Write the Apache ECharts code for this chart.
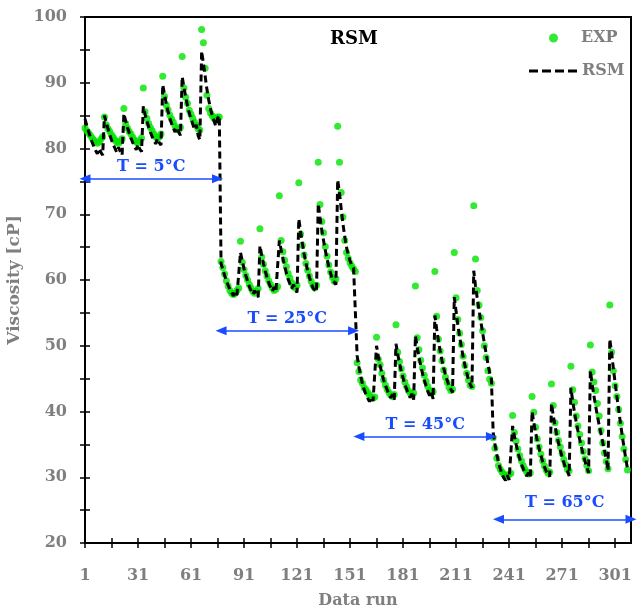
<!DOCTYPE html>
<html>
<head>
<meta charset="utf-8">
<script src="https://cdn.jsdelivr.net/npm/echarts@6/dist/echarts.min.js"></script>
<style>html,body{margin:0;padding:0;background:#fff}#chart{width:642px;height:607px}</style>
</head>
<body>
<div id="chart"></div>
<script>
// ---- data (one value per data run, 7 cycles of 11 runs per temperature) ----
var exp5 = [
 83.1,82.7,82.4,82.0,81.6,81.3,81.0,80.8,81.0,81.4,81.8,
 84.8,83.6,83.0,82.6,82.1,81.7,81.3,81.0,80.8,81.1,81.5,
 86.1,83.8,83.1,82.6,82.2,81.7,81.3,81.0,80.8,81.2,81.6,
 89.2,85.6,84.6,83.8,83.2,82.7,82.2,81.8,81.5,81.8,82.2,
 91.0,87.9,86.6,85.9,85.1,84.5,84.0,83.4,83.0,82.8,83.2,
 94.0,89.2,87.8,86.9,85.8,85.2,84.6,84.0,83.5,83.0,82.8,
 98.1,96.1,92.2,88.1,86.1,85.4,85.0,84.6,84.3,84.8,84.8
];
var rsm5 = [
 84.5,83.5,82.6,81.8,81.0,80.3,79.7,79.2,80.0,79.4,79.0,
 85.0,84.0,83.0,82.1,81.3,80.6,80.0,79.4,80.2,79.5,79.0,
 85.3,84.2,83.2,82.4,81.6,80.9,80.3,79.8,80.6,79.9,79.5,
 86.4,85.2,84.2,83.3,82.5,81.8,81.2,80.7,81.5,80.9,80.5,
 89.7,88.2,86.8,85.6,84.6,83.8,83.1,82.5,83.2,82.5,82.0,
 90.9,89.3,87.8,86.5,85.4,84.5,83.7,82.9,83.6,82.0,81.3,
 94.8,93.0,91.0,89.0,87.4,86.1,85.0,84.2,83.4,84.6,85.0
];
var exp25 = [
 62.8,61.9,60.9,59.9,59.1,58.4,58.0,57.8,58.0,58.4,58.8,
 65.9,62.7,61.6,60.7,60.0,59.3,58.8,58.3,58.0,58.3,58.7,
 67.8,63.5,62.4,61.4,60.6,59.9,59.3,58.8,58.4,58.6,59.0,
 72.8,66.0,64.3,63.0,62.0,61.0,60.3,59.6,59.0,58.8,59.2,
 74.8,67.0,65.3,63.8,62.5,61.5,60.6,59.8,59.2,58.8,59.2,
 77.9,71.5,68.9,67.2,65.1,63.6,62.3,61.2,60.4,59.8,60.2,
 83.4,77.9,73.3,69.6,66.0,64.2,63.3,62.6,62.1,61.7,61.3
];
var rsm25 = [
 62.5,61.6,60.7,59.9,59.2,58.6,58.1,57.6,58.2,57.7,57.4,
 64.2,62.9,61.7,60.7,59.8,59.0,58.4,57.8,58.4,57.8,57.4,
 65.2,63.8,62.5,61.4,60.4,59.6,58.9,58.3,58.9,58.2,57.9,
 66.0,64.6,63.3,62.1,61.0,60.1,59.4,58.7,59.3,58.6,58.1,
 69.3,67.4,65.6,64.0,62.6,61.4,60.4,59.5,58.8,59.0,58.2,
 71.6,69.5,67.6,66.0,64.5,63.2,62.0,61.0,60.1,60.4,59.3,
 75.2,73.3,70.8,68.5,66.6,65.0,63.8,62.9,62.2,61.8,61.5
];
var exp45 = [
 47.4,46.1,44.8,44.3,43.6,43.3,42.9,42.5,42.2,42.0,42.2,
 51.3,48.0,47.1,45.8,44.8,44.0,43.4,42.9,42.5,42.3,42.6,
 53.2,49.0,47.6,46.5,45.4,44.5,43.8,43.2,42.8,42.5,42.8,
 59.1,51.2,49.4,47.8,46.6,45.5,44.6,43.8,43.2,42.8,43.0,
 61.3,54.5,51.0,49.2,47.7,46.3,45.2,44.4,43.7,43.2,43.4,
 64.2,57.3,54.0,51.9,50.2,48.4,47.0,45.8,44.8,44.0,43.8,
 71.3,63.2,58.4,56.2,54.3,52.3,50.0,48.2,46.2,44.9,44.3
];
var rsm45 = [
 48.5,46.8,45.4,44.2,43.3,42.6,42.0,41.5,42.2,41.6,41.3,
 50.0,48.4,47.0,45.8,44.8,44.0,43.3,42.6,42.1,42.6,41.8,
 50.3,48.7,47.3,46.1,45.1,44.2,43.4,42.7,42.1,42.7,41.8,
 51.5,49.8,48.3,47.0,45.8,44.8,43.9,43.1,42.4,43.0,41.9,
 54.6,52.6,50.8,49.2,47.8,46.6,45.6,44.7,43.9,43.4,42.9,
 57.4,55.2,53.2,51.4,49.8,48.3,47.0,45.9,44.9,44.1,43.6,
 61.4,59.1,57.2,55.4,53.7,52.0,50.4,48.8,47.3,45.9,44.9
];
var exp65 = [
 36.0,34.4,32.9,31.8,31.2,30.8,30.5,30.3,30.2,30.4,30.6,
 39.4,36.8,35.5,34.3,33.3,32.5,31.8,31.2,30.8,30.5,30.7,
 42.3,39.9,37.6,35.8,34.6,33.5,32.5,31.7,31.1,30.6,30.8,
 44.2,40.9,38.3,36.8,35.6,34.6,33.6,32.7,31.9,31.2,31.0,
 46.9,43.3,41.4,39.3,37.8,36.5,35.2,33.9,32.8,31.8,31.0,
 50.1,46.0,44.5,43.2,41.2,39.3,37.1,35.2,33.7,32.4,31.3,
 56.2,49.0,46.2,43.9,42.3,40.3,38.2,36.2,34.3,32.7,31.1
];
var rsm65 = [
 36.8,35.0,33.5,32.3,31.3,30.5,29.9,29.5,30.3,29.6,29.3,
 37.8,36.3,35.0,33.8,32.8,32.0,31.3,30.7,30.2,30.7,30.0,
 40.0,38.3,36.8,35.5,34.3,33.3,32.4,31.6,30.9,31.2,30.1,
 41.2,39.4,37.8,36.4,35.2,34.1,33.1,32.2,31.4,31.0,30.2,
 43.6,41.6,39.9,38.4,37.0,35.7,34.5,33.4,32.4,31.5,30.7,
 46.2,44.2,42.4,40.8,39.3,37.9,36.6,35.3,34.0,32.8,31.0,
 51.0,49.0,46.6,44.4,42.3,40.3,38.3,36.4,34.6,32.9,31.3
];
var xTickLabels = [1, 31, 61, 91, 121, 151, 181, 211, 241, 271, 301];
var yTickLabels = [20, 30, 40, 50, 60, 70, 80, 90, 100];
var tempLabels = ['T = 5°C', 'T = 25°C', 'T = 45°C', 'T = 65°C'];
var tempRanges = [[1, 76], [78, 153], [156, 231], [235, 310]];
var tempArrowY = [75.4, 52.3, 36.2, 23.6];

// ---- build ----
var expAll = exp5.concat(exp25, exp45, exp65);
var rsmAll = rsm5.concat(rsm25, rsm45, rsm65);
var expData = expAll.map(function (v, i) { return [i + 1, v]; });
var rsmData = rsmAll.map(function (v, i) { return [i + 1, v]; });

var FONT = 'DejaVu Serif';
var GREY = '#7f7f7f';
var BLUE = '#1a4cff';
var labelGaps = [4, 4, 4, 8];

var arrowLines = tempLabels.map(function (t, i) {
  return [
    { coord: [tempRanges[i][0], tempArrowY[i]],
      label: { formatter: t, distance: labelGaps[i] } },
    { coord: [tempRanges[i][1], tempArrowY[i]] }
  ];
});

var chart = echarts.init(document.getElementById('chart'), null, { renderer: 'canvas' });
var xBase = { type: 'value', min: 1, max: 310, interval: 15, gridIndex: 0, position: 'bottom',
  splitLine: { show: false } };
var yBase = { type: 'value', min: 20, max: 100, interval: 5, gridIndex: 0, position: 'left',
  splitLine: { show: false } };
var DASH_ICON = 'path://M0,0h9v3h-9z M13,0h9v3h-9z M26,0h9v3h-9z M39,0h9v3h-9z';

chart.setOption({
  animation: false,
  backgroundColor: '#fff',
  title: {
    text: 'RSM', left: 330, top: 30, padding: 0,
    textStyle: { fontFamily: FONT, fontWeight: 'bold', fontSize: 18, color: '#000' }
  },
  legend: [
    { data: [{ name: 'EXP', icon: 'circle' }], left: 549, top: 30, padding: 0,
      itemWidth: 9, itemHeight: 9,
      textStyle: { fontFamily: FONT, fontWeight: 'bold', fontSize: 16, color: GREY,
        padding: [0, 0, 0, 18] } },
    { data: [{ name: 'RSM', icon: DASH_ICON, itemStyle: { color: '#000' } }],
      left: 529, top: 63, padding: 0, itemWidth: 48, itemHeight: 3,
      textStyle: { fontFamily: FONT, fontWeight: 'bold', fontSize: 16, color: GREY } }
  ],
  grid: { left: 85, right: 11, top: 17, bottom: 64, show: true, borderColor: '#000', borderWidth: 2,
    containLabel: false, outerBoundsMode: 'none' },
  xAxis: [
    Object.assign({}, xBase, {
      name: 'Data run', nameLocation: 'middle', nameGap: 50,
      nameTextStyle: { fontFamily: FONT, fontWeight: 'bold', fontSize: 16, color: GREY },
      axisLine: { show: true, lineStyle: { color: '#000', width: 2 } },
      axisTick: { show: true, inside: false, length: 5, lineStyle: { color: '#000', width: 1.5 } },
      axisLabel: { margin: 25, fontFamily: FONT, fontWeight: 'bold', fontSize: 16, color: GREY,
        showMaxLabel: false,
        formatter: function (v) { return xTickLabels.indexOf(v) >= 0 ? String(v) : ''; } }
    }),
    Object.assign({}, xBase, {
      axisLine: { show: false },
      axisTick: { show: true, inside: true, length: 5, lineStyle: { color: '#000', width: 1.5 } },
      axisLabel: { show: false }
    })
  ],
  yAxis: [
    Object.assign({}, yBase, {
      name: 'Viscosity [cP]', nameLocation: 'middle', nameGap: 50,
      nameTextStyle: { fontFamily: FONT, fontWeight: 'bold', fontSize: 17, color: GREY },
      axisLine: { show: true, lineStyle: { color: '#000', width: 2 } },
      axisTick: { show: true, inside: false, length: 5, lineStyle: { color: '#000', width: 1.5 } },
      axisLabel: { margin: 18, fontFamily: FONT, fontWeight: 'bold', fontSize: 16, color: GREY,
        formatter: function (v) { return yTickLabels.indexOf(v) >= 0 ? String(v) : ''; } }
    }),
    Object.assign({}, yBase, {
      axisLine: { show: false },
      axisTick: { show: true, inside: true, length: 5, lineStyle: { color: '#000', width: 1.5 } },
      axisLabel: { show: false }
    })
  ],
  series: [
    { name: 'EXP', type: 'scatter', data: expData, symbolSize: 7, z: 2,
      itemStyle: { color: '#00e400' } },
    { name: 'RSM', type: 'line', data: rsmData, symbol: 'none', z: 3,
      lineStyle: { color: '#000', width: 3, type: [7, 4], cap: 'butt' },
      itemStyle: { color: '#000' } },
    { name: 'arrows', type: 'line', data: [], z: 4,
      markLine: {
        silent: true, symbol: ['triangle', 'triangle'], symbolSize: [9, 11],
        lineStyle: { color: BLUE, width: 1.5, type: 'solid' },
        label: { show: true, position: 'insideMiddleTop', distance: 4, color: BLUE,
          fontFamily: FONT, fontWeight: 'bold', fontSize: 16 },
        emphasis: { disabled: true },
        data: arrowLines
      }
    }
  ]
});
</script>
</body>
</html>
